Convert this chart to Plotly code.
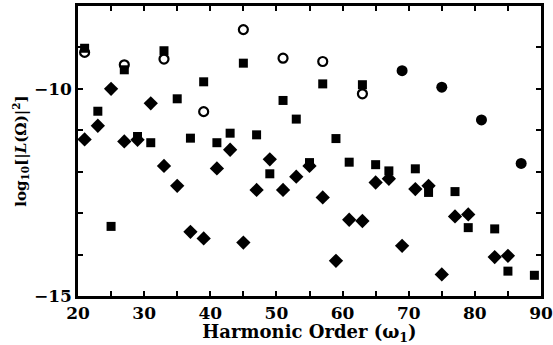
import plotly.graph_objects as go

# Squares
sq_x = [21, 23, 25, 27, 29, 31, 33, 35, 37, 39, 41, 43, 45, 47, 49, 51, 53, 55, 57, 59, 61, 63, 65, 67, 71, 73, 77, 79, 83, 85, 89]
sq_y = [-9.02, -10.54, -13.32, -9.54, -11.15, -11.30, -9.08, -10.24, -11.19, -9.83, -11.30, -11.07, -9.38, -11.11, -12.05, -10.28, -10.73, -11.78, -9.88, -11.20, -11.77, -9.90, -11.83, -11.98, -11.93, -12.50, -12.48, -13.35, -13.38, -14.40, -14.50]

# Diamonds
di_x = [21, 23, 25, 27, 29, 31, 33, 35, 37, 39, 41, 43, 45, 47, 49, 51, 53, 55, 57, 59, 61, 63, 65, 67, 69, 71, 73, 75, 77, 79, 83, 85]
di_y = [-11.22, -10.89, -10.00, -11.27, -11.23, -10.35, -11.86, -12.34, -13.45, -13.61, -11.92, -11.47, -13.71, -12.44, -11.70, -12.44, -12.12, -11.86, -12.62, -14.15, -13.16, -13.19, -12.26, -12.17, -13.79, -12.42, -12.34, -14.48, -13.08, -13.03, -14.06, -14.03]

# Open circles
oc_x = [21, 27, 33, 39, 45, 51, 57, 63]
oc_y = [-9.12, -9.42, -9.28, -10.55, -8.57, -9.26, -9.34, -10.12]

# Filled circles
fc_x = [69, 75, 81, 87]
fc_y = [-9.56, -9.96, -10.75, -11.80]

fig = go.Figure()
fig.add_trace(go.Scatter(x=sq_x, y=sq_y, mode="markers",
                         marker=dict(symbol="square", size=9, color="black")))
fig.add_trace(go.Scatter(x=di_x, y=di_y, mode="markers",
                         marker=dict(symbol="diamond", size=11, color="black")))
fig.add_trace(go.Scatter(x=oc_x, y=oc_y, mode="markers",
                         marker=dict(symbol="circle-open", size=9, color="black",
                                     line=dict(width=2.2, color="black"))))
fig.add_trace(go.Scatter(x=fc_x, y=fc_y, mode="markers",
                         marker=dict(symbol="circle", size=11, color="black")))

tickfont = dict(family="DejaVu Serif", size=17, color="black", weight="bold")
fig.update_layout(
    width=553, height=345,
    margin=dict(l=78, r=12, t=6, b=49),
    paper_bgcolor="white", plot_bgcolor="white",
    showlegend=False,
    xaxis=dict(range=[20, 90], tickvals=[20, 30, 40, 50, 60, 70, 80, 90],
               ticks="inside", ticklen=5, tickwidth=1.5, tickcolor="black",
               minor=dict(dtick=5, tick0=20, ticks="inside", ticklen=5, tickwidth=1.5, tickcolor="black"),
               showline=True, linewidth=2.5, linecolor="black", mirror="allticks",
               showgrid=False, zeroline=False, tickfont=tickfont, automargin=False,
               title=dict(text="Harmonic Order (ω<sub>1</sub>)", standoff=4,
                          font=dict(family="DejaVu Serif", size=18, color="black", weight="bold"))),
    yaxis=dict(range=[-15, -8], tickvals=[-15, -10], ticktext=["−15", "−10"],
               ticks="inside", ticklen=5, tickwidth=1.5, tickcolor="black",
               minor=dict(dtick=1, tick0=-15, ticks="inside", ticklen=5, tickwidth=1.5, tickcolor="black"),
               showline=True, linewidth=2.5, linecolor="black", mirror="allticks",
               showgrid=False, zeroline=False, tickfont=tickfont, automargin=False,
               title=dict(text="log<sub>10</sub>[|<i>L</i>(Ω)|<sup>2</sup>]", standoff=4,
                          font=dict(family="DejaVu Serif", size=15, color="black", weight="bold"))),
)
fig.write_html("out.html")
